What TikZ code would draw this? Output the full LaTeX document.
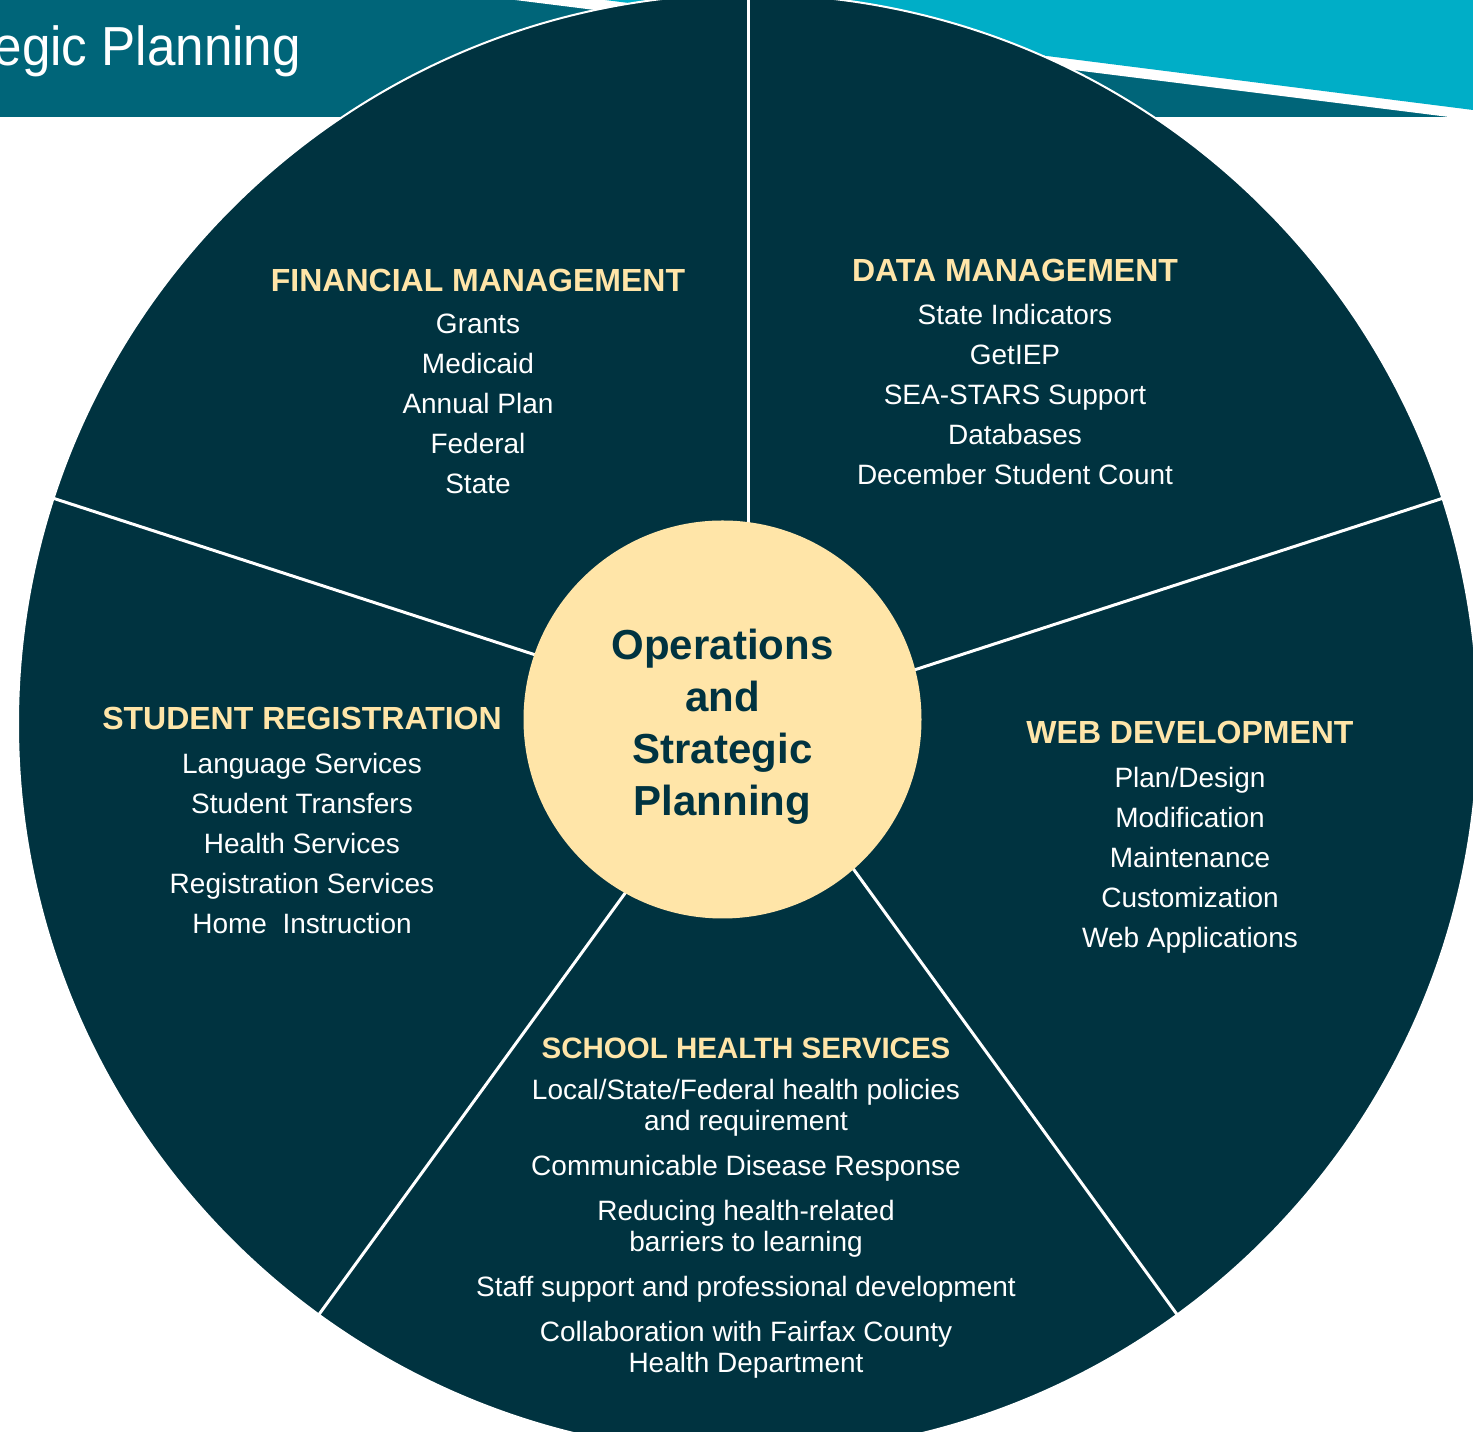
\documentclass[tikz,border=0pt]{standalone}
\usepackage{fontspec}
\setmainfont{Liberation Sans}
\usetikzlibrary{positioning}

\definecolor{piedark}{HTML}{003340}
\definecolor{bandteal}{HTML}{006579}
\definecolor{bandcyan}{HTML}{00AEC7}
\definecolor{cream}{HTML}{FFE5A8}

\begin{document}
\begin{tikzpicture}[x=1pt,y=1pt,
  head/.style={text=cream,font=\fontsize{32}{36}\selectfont\bfseries,anchor=base,inner sep=0pt},
  items/.style={text=white,font=\fontsize{28}{40.2}\selectfont,align=center,anchor=base,inner sep=0pt},
  sep/.style={draw=white,line width=3pt}]

\useasboundingbox (0,0) rectangle (1473,1432);
\clip (0,0) rectangle (1473,1432);

% header band behind the wheel
\fill[bandteal] (0,1315) rectangle (1473,1432);
\fill[white] (515,1432) -- (1473,1312) -- (1473,1432) -- cycle;
\fill[bandcyan] (605,1432) -- (1473,1322) -- (1473,1432) -- cycle;
\node[text=white,font=\fontsize{55}{60}\selectfont,anchor=base east,inner sep=0pt,xscale=0.93] (title) at (301,1366) {egic Planning};

% wheel
\def\R{730}
\coordinate (c) at (748,708);
\fill[piedark,draw=white,line width=2pt] (c) circle (\R);
\foreach \a in {90,18,162,234,306} \draw[sep] (c) -- ++(\a:\R);

\node[circle,fill=cream,minimum size=398pt,inner sep=0pt] (core) at (722.5,712.5) {};
\node[text=piedark,font=\fontsize{42}{52}\selectfont\bfseries,align=center]
  (corelabel) at ([yshift=-7pt]core.center) {Operations\\and\\Strategic\\Planning};

% sectors (list nodes sit on the baseline of their last line)
\node[head] (fin) at (478,1140) {FINANCIAL MANAGEMENT};
\node[items] (finlist) at (478,938) {Grants\\Medicaid\\Annual Plan\\Federal\\State};

\node[head] (data) at (1015,1150) {DATA MANAGEMENT};
\node[items] (datalist) at (1015,947) {State Indicators\\GetIEP\\SEA-STARS Support\\Databases\\December Student Count};

\node[head] (reg) at (302,702) {STUDENT REGISTRATION};
\node[items] (reglist) at (302,498) {Language Services\\Student Transfers\\Health Services\\Registration Services\\Home\ \ Instruction};

\node[head] (web) at (1190,688) {WEB DEVELOPMENT};
\node[items] (weblist) at (1190,484) {Plan/Design\\Modification\\Maintenance\\Customization\\Web Applications};

\node[head,font=\fontsize{29.5}{34}\selectfont\bfseries] (health) at (746,373) {SCHOOL HEALTH SERVICES};
\node[items,font=\fontsize{28}{31}\selectfont] (healthlist) at (746,59)
  {Local/State/Federal health policies\\and requirement\\[14pt]
   Communicable Disease Response\\[14pt]
   Reducing health-related\\barriers to learning\\[14pt]
   Staff support and professional development\\[14pt]
   Collaboration with Fairfax County\\Health Department};

\end{tikzpicture}
\end{document}
